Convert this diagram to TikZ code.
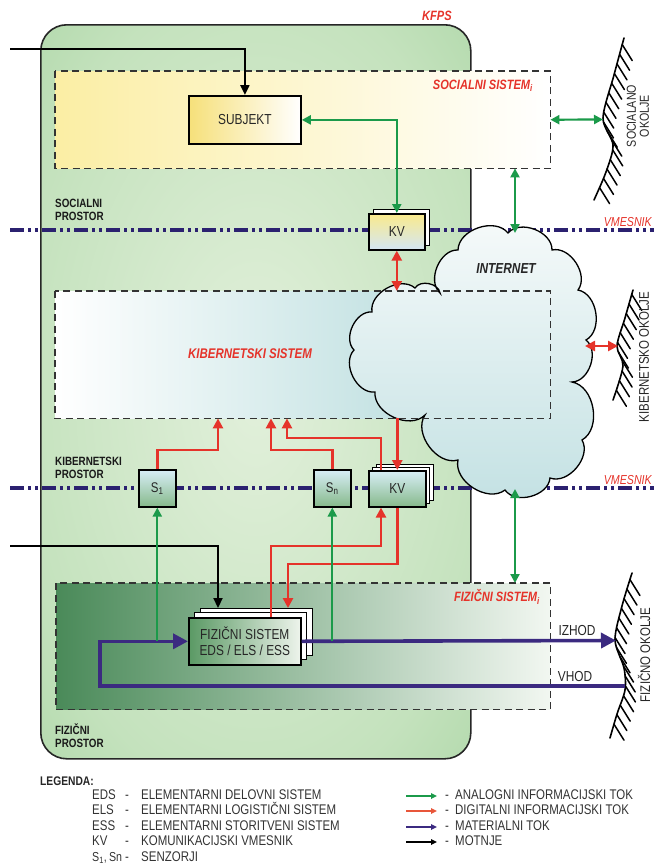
\documentclass[tikz,border=0pt]{standalone}
\usepackage{fontspec}
\setmainfont{Liberation Sans}[FakeStretch=0.82]
\usetikzlibrary{arrows.meta,decorations.markings,calc}

\definecolor{kred}{HTML}{E5332A}
\definecolor{kgreen}{HTML}{1B9A4A}
\definecolor{kpurple}{HTML}{3B2A80}
\definecolor{kline}{HTML}{2B2170}
\definecolor{kgin}{HTML}{E2F0DB}
\definecolor{kgmid}{HTML}{C4E2BD}
\definecolor{kgout}{HTML}{98CC93}
\definecolor{ksocL}{HTML}{FBEEA4}
\definecolor{kcybR}{HTML}{A9D5D6}
\definecolor{kphysL}{HTML}{4A8A59}
\definecolor{kphysR}{HTML}{F2F7F1}
\definecolor{kfsL}{HTML}{5A9964}
\definecolor{kfsR}{HTML}{EEF4EC}
\definecolor{ksensT}{HTML}{D8EEF6}
\definecolor{ksensB}{HTML}{86B98B}
\definecolor{kkvT}{HTML}{FAEA8C}
\definecolor{kkvB}{HTML}{D3E6F4}
\definecolor{ksubL}{HTML}{F6E07A}
\definecolor{kcloudT}{HTML}{F6FAFA}
\definecolor{kcloudB}{HTML}{C3E1E3}
\definecolor{klegred}{HTML}{E8563A}

\pgfdeclareradialshading{kfpsglow}{\pgfpoint{0bp}{0bp}}{%
  color(0bp)=(kgin); color(28bp)=(kgmid); color(50bp)=(kgout); color(72bp)=(kgout)}

\newcommand\setfs[1]{\fontsize{#1pt}{#1pt}\selectfont}

\begin{document}
\begin{tikzpicture}[x=1pt,y=-1pt,
  lab/.style={inner sep=0pt, font=\setfs{14.5}, text=black!85},
  rlab/.style={inner sep=0pt, font=\setfs{13.5}\bfseries\itshape, text=kred},
  vlab/.style={inner sep=0pt, font=\setfs{13}\itshape, text=kred},
  blab/.style={inner sep=0pt, font=\setfs{12}\bfseries, align=left, text=black!90, anchor=west},
  envlab/.style={inner sep=0pt, font=\setfs{14}, align=center, text=black!85, rotate=90},
  legt/.style={inner sep=0pt, anchor=west, font=\setfs{14}, text=black!80, text height=10pt, text depth=3pt},
  area/.style={inner sep=0pt, anchor=north west},
  dashline/.style={draw=black!80, line width=1.5pt, dash pattern=on 7pt off 4.5pt},
  sbox/.style={draw=black, line width=1.6pt, inner sep=0pt, anchor=north west, font=\setfs{14.5}, text=black!85},
  backbox/.style={draw=black, line width=1.4pt, fill=white, inner sep=0pt, anchor=north west},
  vmline/.style={draw=kline, line width=3.8pt, dash pattern=on 14pt off 4pt on 3pt off 4pt on 3pt off 4pt},
  garr/.style={draw=kgreen, line width=2.2pt, >={Triangle[length=9pt,width=9pt]}},
  rarr/.style={draw=kred, line width=2.5pt, >={Triangle[length=10pt,width=10pt]}},
  parr/.style={draw=kpurple, line width=3.6pt, >={Triangle[length=15pt,width=15pt]}},
  karr/.style={draw=black, line width=2.2pt, >={Triangle[length=10pt,width=9pt]}},
  legarr/.style={line width=1.5pt, -{Triangle[length=6pt,width=5.5pt]}},
  cloudst/.style={draw=black, line width=1.3pt, top color=kcloudT, bottom color=kcloudB},
  envline/.style={draw=black, line width=1.6pt, line cap=round,
    postaction={decorate, decoration={markings,
      mark=between positions 0.04 and 0.97 step 10pt with
      {\pgftransformresetnontranslations\draw[line width=1.5pt, line cap=round] (0,0) -- (10,16);}}}}
]
\useasboundingbox (0,0) rectangle (654,865);

% outer frame
\node[draw=black!85, line width=1.6pt, rounded corners=26pt, shade, shading=kfpsglow,
      minimum width=430pt, minimum height=734pt, area] (kfps) at (40,24) {};
\node[rlab] (kfpslab) at (437,16) {KFPS};

% system areas (fills)
\node[area, left color=ksocL, right color=white, minimum width=495pt, minimum height=97pt] (soc) at (55,71) {};
\node[area, left color=white, right color=kcybR, minimum width=495pt, minimum height=127pt] (cyb) at (55,291) {};
\node[area, left color=kphysL, right color=kphysR, minimum width=494pt, minimum height=126pt] (phys) at (56,583) {};

% interface lines
\coordinate (vm1a) at (10,230);
\coordinate (vm1b) at (654,230);
\coordinate (vm2a) at (10,488);
\coordinate (vm2b) at (654,488);
\draw[vmline] (vm1a) -- (vm1b);
\draw[vmline] (vm2a) -- (vm2b);
\node[vlab, anchor=south east] (vmlab1) at (652,227) {VMESNIK};
\node[vlab, anchor=south east] (vmlab2) at (652,485) {VMESNIK};

% internet cloud
\draw[cloudst] (440,293) to[bend left=70] (458,250) to[bend left=70] (508,233)
  to[bend left=70] (552,250) to[bend left=70] (578,290) to[bend left=70] (586,340)
  to[bend left=70] (572,382) to[bend left=70] (582,440) to[bend left=70] (550,478)
  to[bend left=70] (505,490) to[bend left=70] (458,460) to[bend left=70] (425,415)
  to[bend left=70] (375,392) to[bend left=70] (354,350) to[bend left=70] (372,312)
  to[bend left=70] (415,288) to[bend left=70] (440,293) -- cycle;
\node[inner sep=0pt, font=\setfs{14.5}\bfseries\itshape, text=black!85] (netlab) at (506,269) {INTERNET};

% dashed outlines of the three systems
\draw[dashline] (soc.north west) rectangle (soc.south east);
\draw[dashline] (cyb.north west) rectangle (cyb.south east);
\draw[dashline] (phys.north west) rectangle (phys.south east);

\node[rlab, anchor=east] (soclab) at (533,86) {SOCIALNI SISTEM\textsubscript{i}};
\node[rlab, font=\setfs{14}\bfseries\itshape] (cyblab) at (250,354) {KIBERNETSKI SISTEM};
\node[rlab, anchor=east] (physlab) at (540,597) {FIZIČNI SISTEM\textsubscript{i}};

\node[blab] (socpr) at (55,210) {SOCIALNI\\[1pt]PROSTOR};
\node[blab] (cybpr) at (55,468) {KIBERNETSKI\\[1pt]PROSTOR};
\node[blab] (physpr) at (55,736) {FIZIČNI\\[1pt]PROSTOR};

% subject and communication mediators
\node[sbox, left color=ksubL, right color=white, minimum width=112pt, minimum height=48pt, line width=1.8pt] (subj) at (188,95) {SUBJEKT};

\node[backbox, minimum width=56pt, minimum height=36pt] (kvtb) at (373,209) {};
\node[sbox, top color=kkvT, bottom color=kkvB, minimum width=56pt, minimum height=36pt] (kvt) at (368,213) {KV};

\node[backbox, minimum width=57pt, minimum height=36pt] (kvlb2) at (376,464) {};
\node[backbox, minimum width=57pt, minimum height=36pt] (kvlb1) at (372,467) {};
\node[sbox, top color=ksensT, bottom color=ksensB, minimum width=57pt, minimum height=36pt] (kvl) at (368,470) {KV};

\node[sbox, top color=ksensT, bottom color=ksensB, minimum width=37pt, minimum height=37pt, font=\setfs{14}] (s1) at (138,469) {S\textsubscript{1}};
\node[sbox, top color=ksensT, bottom color=ksensB, minimum width=37pt, minimum height=37pt, font=\setfs{14}] (sn) at (313,469) {S\textsubscript{n}};

% physical system stack
\node[backbox, minimum width=112pt, minimum height=47pt] (fsb2) at (200,608) {};
\node[backbox, minimum width=112pt, minimum height=47pt] (fsb1) at (194,612) {};
\node[sbox, left color=kfsL, right color=kfsR, minimum width=112pt, minimum height=47pt, align=center, font=\setfs{14.5}\linespread{1.1}\selectfont] (fsf) at (188,617) {FIZIČNI SISTEM\\EDS / ELS / ESS};

% environments
\draw[envline] plot[smooth] coordinates {(624,38) (614,75) (603,118) (613,145) (606,172) (594,200)};
\node[envlab, font=\setfs{13}] (socenvlab) at (638,116) {SOCIALANO\\OKOLJE};
\draw[envline] plot[smooth] coordinates {(633,290) (625,318) (617,346) (623,366) (613,400)};
\node[envlab] (cybenvlab) at (644,357) {KIBERNETSKO OKOLJE};
\draw[envline] plot[smooth] coordinates {(632,573) (622,606) (615,640) (624,668) (625,690) (617,714) (610,738)};
\node[envlab] (physenvlab) at (644,655) {FIZIČNO OKOLJE};

% disturbances
\coordinate (m1) at (10,49);
\draw[karr,->] (m1) -| (subj.north);
\coordinate (m2) at (10,546);
\coordinate (m2b) at (218,546);
\draw[karr,->] (m2) -- (m2b) -- (m2b |- fsb2.north);

% analog information flows
\draw[garr,<->] (subj.east) -| (kvt.north);
\coordinate (socenv) at (603,119.5);
\draw[garr,<->] (soc.east) -- (socenv);
\coordinate (nettop) at (515,233);
\draw[garr,<->] (nettop |- soc.south) -- (nettop);
\coordinate (netbot) at (515,489);
\draw[garr,<->] (netbot) -- (netbot |- phys.north);

% digital information flows
\draw[rarr,<->] (kvt.south) -- (kvt.south |- cyb.north);
\draw[rarr,->] (kvl.north |- cyb.south) -- (kvl.north);
\coordinate (r1) at (218,450);
\draw[rarr,->] (s1.north) |- (r1) -- (r1 |- cyb.south);
\coordinate (r2) at (271,450);
\draw[rarr,->] (sn.north) |- (r2) -- (r2 |- cyb.south);
\coordinate (r3b) at (381,438);
\coordinate (r3) at (287,438);
\draw[rarr,->] (r3b |- kvl.north) -- (r3b) -- (r3) -- (r3 |- cyb.south);
\coordinate (r4) at (271,546);
\coordinate (r4b) at (381,546);
\draw[rarr,->] (r4 |- fsf.north) -- (r4) -- (r4b) -- (r4b |- kvl.south);
\coordinate (r5) at (288,564);
\draw[rarr,->] (kvl.south) -- (kvl.south |- r5) -- (r5) -- (r5 |- fsb2.north);
\coordinate (netr) at (585,346);
\coordinate (cybenv) at (618,346);
\draw[rarr,<->] (netr) -- (cybenv);

% material flow
\coordinate (vhodenv) at (625,686);
\coordinate (loopl) at (100,686);
\draw[parr,->] (vhodenv) -- (loopl) |- (fsf.west);
\coordinate (izenv) at (616,640.5);
\draw[parr,->] (fsf.east) -- (izenv);
\node[lab] (izlab) at (577,630) {IZHOD};
\node[lab] (vhlab) at (575,676) {VHOD};

% analog links from the material flow to the sensors
\draw[garr,->] (s1.south |- fsf.west) -- (s1.south);
\draw[garr,->] (sn.south |- fsf.west) -- (sn.south);

% legend
\node[inner sep=0pt, anchor=west, font=\setfs{12.5}\bfseries, text=black!85] (leg) at (40,781) {LEGENDA:};
\node[legt] (la1) at (92,796) {EDS};
\node[legt] (la2) at (92,811) {ELS};
\node[legt] (la3) at (92,827) {ESS};
\node[legt] (la4) at (92,842) {KV};
\node[legt, font=\setfs{13}] (la5) at (92,858) {S\textsubscript{1},\,Sn};
\foreach \yy/\nm in {796/d1, 811/d2, 827/d3, 842/d4, 858/d5}
  \node[legt] (\nm) at (125,\yy) {-};
\node[legt] (lb1) at (141,796) {ELEMENTARNI DELOVNI SISTEM};
\node[legt] (lb2) at (141,811) {ELEMENTARNI LOGISTIČNI SISTEM};
\node[legt] (lb3) at (141,827) {ELEMENTARNI STORITVENI SISTEM};
\node[legt] (lb4) at (141,842) {KOMUNIKACIJSKI VMESNIK};
\node[legt] (lb5) at (141,858) {SENZORJI};

\coordinate (lg1a) at (406,796); \coordinate (lg1b) at (437,796);
\coordinate (lg2a) at (406,811); \coordinate (lg2b) at (437,811);
\coordinate (lg3a) at (406,827); \coordinate (lg3b) at (437,827);
\coordinate (lg4a) at (406,842); \coordinate (lg4b) at (437,842);
\draw[legarr, draw=kgreen] (lg1a) -- (lg1b);
\draw[legarr, draw=klegred] (lg2a) -- (lg2b);
\draw[legarr, draw=kpurple] (lg3a) -- (lg3b);
\draw[legarr, draw=black] (lg4a) -- (lg4b);
\foreach \yy/\nm in {796/e1, 811/e2, 827/e3, 842/e4}
  \node[legt] (\nm) at (445,\yy) {-};
\node[legt] (lc1) at (455,796) {ANALOGNI INFORMACIJSKI TOK};
\node[legt] (lc2) at (455,811) {DIGITALNI INFORMACIJSKI TOK};
\node[legt] (lc3) at (455,827) {MATERIALNI TOK};
\node[legt] (lc4) at (455,842) {MOTNJE};
\end{tikzpicture}
\end{document}
